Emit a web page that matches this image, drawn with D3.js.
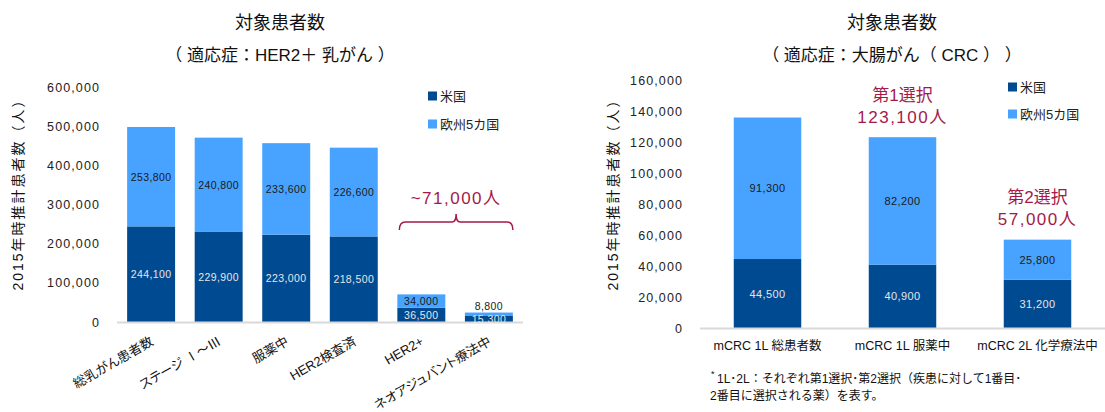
<!DOCTYPE html>
<html lang="ja">
<head>
<meta charset="utf-8">
<script src="https://cdn.jsdelivr.net/npm/d3@7"></script>
<style>
  html, body { margin: 0; padding: 0; background: #fff; }
  svg { display: block; font-family: "Liberation Sans", "Noto Sans CJK JP", sans-serif; }
  .cat-label { font-feature-settings: "palt"; }
</style>
</head>
<body>
<svg id="chart" width="1105" height="412"></svg>
<script>
// ---- HER2+ breast cancer ----
const brCategories = ["総乳がん患者数", "ステージ Ⅰ～Ⅲ", "服薬中", "HER2検査済", "HER2+", "ネオアジュバント療法中"];
const brUS = [244100, 229900, 223000, 218500, 36500, 15300];
const brEU5 = [253800, 240800, 233600, 226600, 34000, 8800];
const brTicks = [0, 100000, 200000, 300000, 400000, 500000, 600000];
const brNote = "~71,000人";

// ---- colorectal cancer ----
const crcCategories = ["mCRC 1L 総患者数", "mCRC 1L 服薬中", "mCRC 2L 化学療法中"];
const crcUS = [44500, 40900, 31200];
const crcEU5 = [91300, 82200, 25800];
const crcTicks = [0, 20000, 40000, 60000, 80000, 100000, 120000, 140000, 160000];
const crcNotes = [
  { index: 1, lines: ["第1選択", "123,100人"] },
  { index: 2, lines: ["第2選択", "57,000人"] }
];

const seriesNames = ["米国", "欧州5カ国"];
const colors = ["#004a91", "#47a3ff"];
const accent = "#a31a4a";
const fmt = d3.format(",");

const svg = d3.select("#chart");

function drawPanel(opt) {
  const g = svg.append("g");
  const x = d3.scaleBand().domain(opt.categories).range(opt.xRange)
    .paddingInner(opt.padIn).paddingOuter(opt.padOut);
  const y = d3.scaleLinear().domain([0, opt.max]).range(opt.yRange);

  // titles
  g.append("text").attr("x", opt.titleX).attr("y", 29).attr("text-anchor", "middle")
    .attr("font-size", 18).attr("fill", "#111").text("対象患者数");
  g.append("text").attr("x", opt.titleX).attr("y", 61).attr("text-anchor", "middle")
    .attr("font-size", 17).attr("fill", "#111").text(opt.subtitle);

  // y axis labels (no line, no ticks)
  const yAxis = d3.axisLeft(y).tickValues(opt.ticks).tickFormat(fmt).tickSize(0).tickPadding(0);
  const ya = g.append("g").attr("transform", `translate(${opt.yLabelX},0)`).call(yAxis);
  ya.select(".domain").remove();
  ya.selectAll("text").attr("font-size", 12.5).attr("fill", "#222").attr("letter-spacing", 1.1)
    .attr("font-family", "Liberation Sans, sans-serif");

  g.append("text")
    .attr("transform", `translate(${opt.yTitleX},${opt.yTitleY}) rotate(-90)`)
    .attr("text-anchor", "middle").attr("dominant-baseline", "central")
    .attr("font-size", 14).attr("letter-spacing", 2).attr("fill", "#111")
    .text("2015年時推計患者数（人）");

  // stacked bars
  const rows = opt.categories.map((c, i) => ({ cat: c, us: opt.us[i], eu: opt.eu[i] }));
  const stack = d3.stack().keys(["us", "eu"])(rows);
  stack.forEach((layer, li) => {
    g.append("g").selectAll("rect").data(layer).join("rect")
      .attr("x", d => x(d.data.cat))
      .attr("y", d => y(d[1]))
      .attr("width", x.bandwidth())
      .attr("height", d => y(d[0]) - y(d[1]))
      .attr("fill", colors[li]);
  });

  // baseline
  g.append("line").attr("x1", opt.xRange[0]).attr("x2", opt.xRange[1])
    .attr("y1", y(0) + 0.5).attr("y2", y(0) + 0.5).attr("stroke", "#d9d9d9").attr("stroke-width", 2);

  // value labels; a sliver too thin to hold its label gets it just above the bar
  const tiny = d => y(d[0]) - y(d[1]) < 5;
  stack.forEach((layer, li) => {
    g.append("g").selectAll("text").data(layer).join("text")
      .attr("x", d => x(d.data.cat) + x.bandwidth() / 2)
      .attr("y", d => tiny(d) ? y(d[1]) - 7 : (y(d[0]) + y(d[1])) / 2)
      .attr("text-anchor", "middle").attr("dominant-baseline", "central")
      .attr("font-size", opt.valueSize).attr("letter-spacing", 0.4)
      .attr("fill", d => tiny(d) ? "#222" : (li === 0 ? "#e6e6e6" : "#1a1a1a"))
      .text(d => fmt(d[1] - d[0]));
  });

  // legend
  seriesNames.forEach((name, i) => {
    const ly = opt.legendY + i * opt.legendGap;
    g.append("rect").attr("x", opt.legendX).attr("y", ly - 4.5).attr("width", 9).attr("height", 9)
      .attr("fill", colors[i]);
    g.append("text").attr("x", opt.legendX + 12).attr("y", ly).attr("dominant-baseline", "central")
      .attr("font-size", 13).attr("fill", "#222").text(name);
  });

  return { g, x, y };
}

// left panel
const left = drawPanel({
  categories: brCategories, us: brUS, eu: brEU5, ticks: brTicks, max: 600000,
  xRange: [117, 523], padIn: 0.29, padOut: 0.15, yRange: [322, 87],
  titleX: 280, subtitle: "（ 適応症：HER2＋ 乳がん ）",
  yLabelX: 100, yTitleX: 18, yTitleY: 191,
  valueSize: 10.5, legendX: 428, legendY: 96, legendGap: 28
});

// rotated category labels
left.g.append("g").selectAll("text").data(brCategories).join("text")
  .attr("class", "cat-label")
  .attr("transform", d => `translate(${left.x(d) + left.x.bandwidth() / 2 + 1},${340}) rotate(-30)`)
  .attr("text-anchor", "end").attr("dominant-baseline", "central")
  .attr("font-size", 13).attr("fill", "#111").text(d => d);

// bracket over the last two bars
{
  const x0 = left.x(brCategories[4]) + 2;
  const x1 = left.x(brCategories[5]) + left.x.bandwidth();
  const xm = (x0 + x1) / 2;
  const yb = 222;
  const path = `M${x0},${yb + 8} Q${x0},${yb} ${x0 + 6},${yb} L${xm - 4},${yb} Q${xm},${yb} ${xm},${yb - 8}`
    + ` Q${xm},${yb} ${xm + 4},${yb} L${x1 - 6},${yb} Q${x1},${yb} ${x1},${yb + 8}`;
  left.g.append("path").attr("d", path).attr("fill", "none").attr("stroke", accent).attr("stroke-width", 1.5);
  left.g.append("text").attr("x", xm).attr("y", 198).attr("text-anchor", "middle")
    .attr("dominant-baseline", "central").attr("font-size", 17).attr("letter-spacing", 1.5)
    .attr("fill", accent).text(brNote);
}

// right panel
const right = drawPanel({
  categories: crcCategories, us: crcUS, eu: crcEU5, ticks: crcTicks, max: 160000,
  xRange: [700, 1105], padIn: 0.5, padOut: 0.25, yRange: [328, 80],
  titleX: 892, subtitle: "（ 適応症：大腸がん（ CRC ） ）",
  yLabelX: 683, yTitleX: 613, yTitleY: 191,
  valueSize: 11, legendX: 1008, legendY: 87, legendGap: 27
});

right.g.append("g").selectAll("text").data(crcCategories).join("text")
  .attr("x", d => right.x(d) + right.x.bandwidth() / 2)
  .attr("y", 346).attr("text-anchor", "middle").attr("dominant-baseline", "central")
  .attr("font-size", 12.5).attr("fill", "#111").text(d => d);

crcNotes.forEach(n => {
  const cx = right.x(crcCategories[n.index]) + right.x.bandwidth() / 2;
  const top = right.y(crcUS[n.index] + crcEU5[n.index]);
  n.lines.forEach((t, i) => {
    right.g.append("text").attr("x", cx)
      .attr("y", top - (n.lines.length - i) * 22 + 2)
      .attr("text-anchor", "middle").attr("dominant-baseline", "central")
      .attr("font-size", 17).attr("letter-spacing", i === 1 ? 1.5 : 0)
      .attr("fill", accent).text(t);
  });
});

// footnote
const foot = right.g.append("g").attr("font-size", 12).attr("fill", "#111");
foot.append("text").attr("x", 711).attr("y", 377).attr("font-size", 9).text("*");
foot.append("text").attr("x", 717).attr("y", 379).attr("dominant-baseline", "central")
  .text("1L･2L：それぞれ第1選択･第2選択（疾患に対して1番目･");
foot.append("text").attr("x", 710).attr("y", 396).attr("dominant-baseline", "central")
  .text("2番目に選択される薬）を表す。");
</script>
</body>
</html>
